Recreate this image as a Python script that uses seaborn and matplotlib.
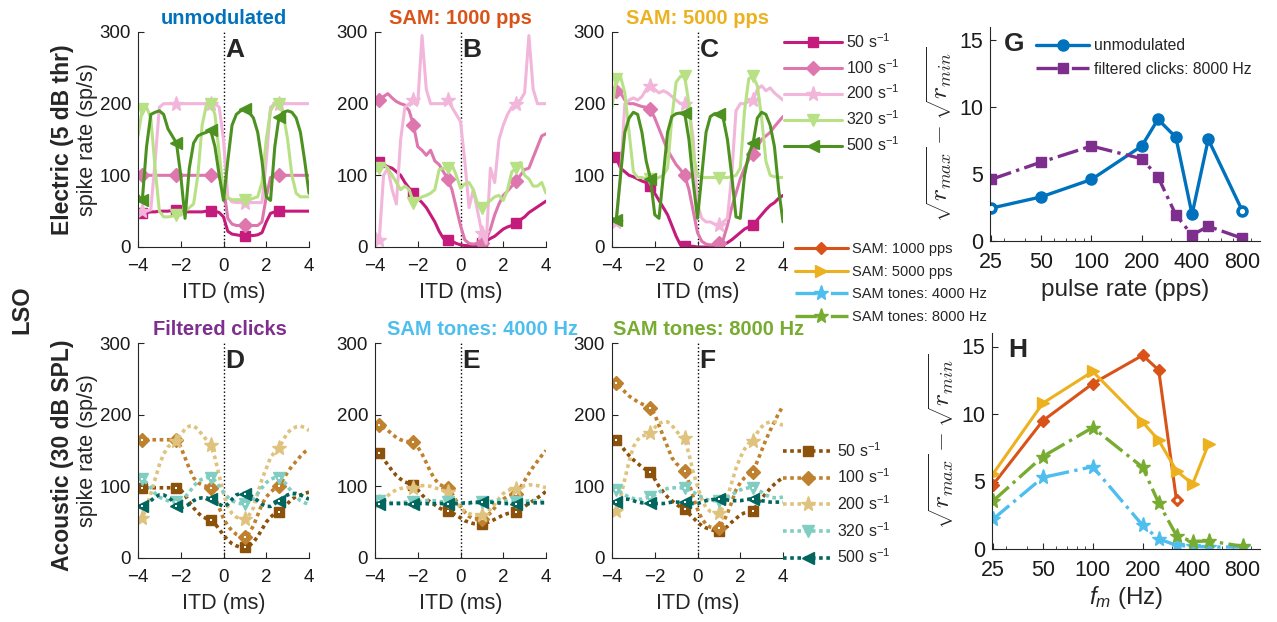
import numpy as np
import matplotlib
matplotlib.use('Agg')
import matplotlib.pyplot as plt
import seaborn as sns
from matplotlib.ticker import FixedLocator, NullFormatter, LogLocator, FixedFormatter

sns.set_style('ticks')
plt.rcParams['font.family'] = ['Liberation Sans', 'DejaVu Sans']
plt.rcParams['mathtext.fontset'] = 'custom'
plt.rcParams['mathtext.rm'] = 'Liberation Sans'
plt.rcParams['mathtext.it'] = 'Liberation Sans:italic'
plt.rcParams['mathtext.bf'] = 'Liberation Sans:bold'

# ---------------- data ----------------
itd = np.linspace(-4, 4, 41)          # ITD sample grid (ms)
marker_idx = [1, 9, 17, 25, 33]        # ITDs -3.8, -2.2, -0.6, 1.0, 2.6

rate_labels = ['50 s$^{-1}$', '100 s$^{-1}$', '200 s$^{-1}$', '320 s$^{-1}$', '500 s$^{-1}$']

# Panel A: electric, unmodulated
A50 = [48,48,48,49,49,50,50,50,51,52, 50,49,49,49,49,49,50,50,50,48,
       42,22,18,17,16,16,16,16,17,20, 35,47,49,50,50,50,50,50,50,50,50]
A100 = [100,100,100,100,100,100,100,100,100,100, 100,100,100,100,100,100,100,100,100,98,
        85,40,32,30,30,30,30,30,30,35, 70,97,100,100,100,100,100,100,100,100,100]
A200 = [50,50,50,52,120,195,200,200,200,200, 200,200,200,200,200,200,200,200,200,195,
        150,70,63,62,62,62,62,62,62,62, 120,195,200,200,200,200,200,200,200,200,200]
A320 = [155,192,195,180,110,50,42,42,43,45, 45,50,55,60,100,170,198,200,185,130,
        75,68,66,66,66,66,66,68,70,90, 150,190,200,200,185,150,100,75,70,70,70]
A500 = [72,65,140,185,188,190,185,165,155,145, 100,40,110,145,155,158,160,163,140,100,
        65,120,170,185,190,193,188,180,160,120, 70,65,140,182,188,190,188,180,160,120,75]

# Panel B: electric, SAM 1000 pps
B50 = [120,118,115,112,110,105,100,90,82,76, 68,62,55,45,35,22,12,10,8,5,
       3,2,2,2,2,5,8,12,15,20, 25,28,30,33,38,42,48,52,56,60,64]
B100 = [205,205,210,214,208,203,200,198,190,170, 140,135,128,135,120,115,105,95,80,55,
        30,10,5,4,5,5,10,25,45,60, 72,78,85,92,100,108,110,125,140,155,158]
B200 = [20,10,100,110,80,60,150,195,200,205, 200,295,220,200,200,200,200,205,195,185,
        175,120,55,80,50,20,5,110,90,150, 170,185,195,200,205,215,295,220,200,200,200]
B320 = [105,110,115,110,100,90,80,85,80,62, 65,70,72,75,80,108,110,110,115,100,
        82,88,90,80,60,55,60,65,70,72, 65,80,105,110,118,100,95,85,85,90,75]

# Panel C: electric, SAM 5000 pps
C50 = [125,125,110,105,100,98,95,92,90,85, 75,65,55,45,30,15,3,2,1,1,
       0,0,0,0,0,1,3,6,10,15, 20,25,28,30,38,45,52,58,62,68,72]
C100 = [215,218,215,205,200,200,198,196,195,192, 180,165,150,135,125,115,108,100,80,50,
        20,8,4,3,3,5,10,30,55,75, 95,110,122,130,140,150,155,160,168,175,182]
C200 = [30,35,100,200,205,208,205,210,220,225, 220,215,218,215,210,205,200,200,195,150,
        60,40,35,35,32,30,35,40,100,190, 200,200,203,205,220,225,218,222,215,210,205]
C320 = [195,235,238,215,160,105,97,97,95,95, 95,97,100,110,180,230,238,238,200,130,
        100,97,97,97,97,96,97,97,98,100, 110,190,235,238,225,180,120,100,98,97,97]
C500 = [40,38,100,160,180,188,185,160,120,95, 45,40,100,160,182,186,187,187,150,90,
        40,100,160,182,186,186,180,150,100,42, 40,100,130,145,180,188,185,170,140,80,35]

# Panel D: acoustic, filtered clicks
D50 = [97,98,98,98,98,98,98,98,98,98, 95,88,78,70,63,58,55,53,48,40,
       32,25,20,17,15,15,17,22,30,40, 50,57,62,64,70,76,82,86,88,90,92]
D100 = [165,165,165,165,165,165,165,165,165,165, 155,140,125,112,105,102,100,98,85,70,
        55,45,38,33,30,30,35,45,60,75, 85,92,97,100,110,120,128,135,142,148,152]
D200 = [55,56,70,90,110,130,145,155,160,163, 172,180,184,184,180,172,165,158,140,115,
        90,72,62,57,55,55,60,70,90,110, 125,140,148,153,165,175,180,183,184,182,178]
D320 = [110,110,105,98,90,85,82,80,78,78, 80,85,92,100,107,110,112,112,108,100,
        92,85,80,77,76,76,78,82,90,98, 105,110,112,112,108,100,92,85,80,77,75]
D500 = [72,72,75,80,85,88,88,85,80,72, 70,72,75,80,83,84,84,82,78,75,
        72,75,82,88,90,90,88,85,80,75, 72,72,76,80,85,88,90,90,88,85,82]

# Panel E: acoustic, SAM tones 4000 Hz
E50 = [145,146,138,130,122,115,110,106,104,102, 95,88,82,78,74,70,67,66,63,60,
       56,52,50,48,48,48,49,51,54,57, 60,62,63,64,68,72,76,80,84,88,93]
E100 = [185,185,182,178,173,168,165,163,162,162, 155,145,133,120,110,103,100,98,90,80,
        72,64,58,55,55,55,58,63,70,77, 82,86,88,90,98,108,118,127,135,143,150]
E200 = [80,78,82,87,92,95,97,98,98,98, 100,101,101,100,98,96,94,92,85,78,
        70,65,62,60,60,60,62,68,75,83, 90,94,96,96,99,101,102,102,101,100,98]
E320 = [80,79,78,78,77,77,77,78,78,78, 78,79,80,80,80,79,78,78,77,77,
        76,76,76,77,77,78,78,79,80,80, 80,79,78,78,78,79,80,80,80,79,78]
E500 = [76,76,76,76,76,76,76,76,75,76, 76,76,76,75,76,76,76,76,76,76,
        76,77,77,78,78,78,78,78,77,77, 76,76,76,76,76,76,76,77,77,77,77]

# Panel F: acoustic, SAM tones 8000 Hz
F50 = [165,164,158,150,143,137,132,127,123,120, 110,100,92,85,80,75,71,68,62,56,
       50,45,42,40,38,38,40,44,50,55, 60,63,65,66,75,83,90,97,103,108,112]
F100 = [245,244,238,232,226,222,218,215,212,210, 200,185,170,155,140,132,127,122,105,85,
        68,55,47,43,42,42,50,62,78,95, 105,112,117,120,135,150,165,178,190,202,212]
F200 = [60,65,85,110,135,155,165,170,172,175, 182,188,190,190,185,178,170,167,145,120,
        100,82,70,65,63,63,70,85,105,125, 140,152,160,163,175,183,188,190,190,188,185]
F320 = [95,95,92,88,85,83,82,82,84,85, 88,92,95,97,98,98,98,97,95,92,
        88,85,82,80,80,80,82,85,88,92, 95,97,98,98,95,92,88,85,84,84,85]
F500 = [78,78,80,82,82,80,78,77,77,77, 76,76,76,77,78,78,78,78,77,76,
        76,78,80,81,82,82,82,81,80,80, 80,81,82,83,82,80,79,78,78,78,78]

# Panel G: modulation depth vs pulse rate
G_rates = [25, 50, 100, 200, 250, 320, 400, 500, 800]
G_unmod = [2.45, 3.3, 4.6, 7.1, 9.1, 7.75, 2.0, 7.6, 2.25]
G_unmod_open = [True, False, False, False, False, False, False, False, True]
G_clicks = [4.6, 5.9, 7.1, 6.15, 4.8, 1.95, 0.45, 1.1, 0.2]

# Panel H: modulation depth vs modulation frequency
H_rates_1000 = [25, 50, 100, 200, 250, 320]
H_sam1000 = [4.75, 9.5, 12.25, 14.35, 13.25, 3.6]
H_sam1000_open = [False, False, False, False, False, True]
H_rates_5000 = [25, 50, 100, 200, 250, 320, 400, 500]
H_sam5000 = [5.55, 10.8, 13.15, 9.4, 8.05, 5.8, 4.8, 7.8]
H_rates_tones = [25, 50, 100, 200, 250, 320, 400, 500, 800]
H_tone4000 = [2.2, 5.3, 6.1, 1.75, 0.75, 0.27, 0.2, 0.15, 0.15]
H_tone8000 = [3.55, 6.85, 9.0, 6.05, 3.4, 1.0, 0.55, 0.6, 0.2]

# ---------------- styling ----------------
el_colors = ['#c51b7d', '#de77ae', '#f1b6da', '#b8e186', '#4d9221']
ac_colors = ['#8c510a', '#bf812d', '#dfc27d', '#80cdc1', '#01665e']
markers = ['s', 'D', '*', 'v', '<']
msizes = [7, 7, 11, 8, 8]
c_unmod = '#0072BD'; c_1000 = '#D95319'; c_5000 = '#EDB120'
c_clicks = '#7E2F8E'; c_4000 = '#4DBEEE'; c_8000 = '#77AC30'
axcol = '#262626'

W, H = 1277, 622
fig = plt.figure(figsize=(W / 100, H / 100), dpi=100)


def axbox(l, t, r, b):
    return fig.add_axes([l / W, 1 - b / H, (r - l) / W, (b - t) / H])


axA = axbox(138, 32, 309, 247)
axB = axbox(375, 32, 546, 247)
axC = axbox(612, 32, 783, 247)
axD = axbox(138, 343, 309, 558)
axE = axbox(375, 343, 546, 558)
axF = axbox(612, 343, 783, 558)
axG = axbox(990, 27, 1260, 241)
axH = axbox(992, 333, 1260, 549)


def style_ax(ax, size=13.5):
    sns.despine(ax=ax)
    for s in ['left', 'bottom']:
        ax.spines[s].set_color(axcol)
        ax.spines[s].set_linewidth(0.8)
    ax.tick_params(direction='in', length=4, width=0.8, colors=axcol,
                   labelsize=size, labelcolor='#1a1a1a', pad=5)
    ax.tick_params(axis='x', pad=8)


def draw_itd(ax, series, colors, ls, lw, hollow):
    for y, c, m, ms, lab in zip(series, colors, markers, msizes, rate_labels):
        sns.lineplot(x=itd, y=y, ax=ax, color=c, marker=m, markevery=marker_idx,
                     ms=ms, mec=c, mfc=c, mew=1, lw=lw, ls=ls, label=lab,
                     legend=False, solid_joinstyle='round', dash_capstyle='butt')
        if hollow and m != '*':
            # small white centre dot inside the acoustic markers
            sns.lineplot(x=itd, y=y, ax=ax, color='white', marker='s', markevery=marker_idx,
                         ms=1.8, mec='white', mfc='white', mew=0, lw=0, ls='',
                         legend=False)


dotted = (0, (1.0, 1.0))
panels = [
    (axA, [A50, A100, A200, A320, A500], el_colors, '-', 2.2, 'unmodulated', c_unmod, 'A', 0.5, False),
    (axB, [B50, B100, B200, B320], el_colors, '-', 2.2, 'SAM: 1000 pps', c_1000, 'B', 0.5, False),
    (axC, [C50, C100, C200, C320, C500], el_colors, '-', 2.2, 'SAM: 5000 pps', c_5000, 'C', 0.5, False),
    (axD, [D50, D100, D200, D320, D500], ac_colors, dotted, 2.6, 'Filtered clicks', c_clicks, 'D', 0.48, True),
    (axE, [E50, E100, E200, E320, E500], ac_colors, dotted, 2.6, 'SAM tones: 4000 Hz', c_4000, 'E', 0.63, True),
    (axF, [F50, F100, F200, F320, F500], ac_colors, dotted, 2.6, 'SAM tones: 8000 Hz', c_8000, 'F', 0.565, True),
]
for ax, series, cols, ls, lw, title, tcol, letter, tx, hollow in panels:
    draw_itd(ax, series, cols, ls, lw, hollow)
    ax.axvline(0, color='k', ls=':', lw=1.0, zorder=0.5)
    ax.set_xlim(-4, 4)
    ax.set_ylim(0, 300)
    ax.set_xticks([-4, -2, 0, 2, 4])
    ax.set_yticks([0, 100, 200, 300])
    ax.set_xlabel('ITD (ms)', fontsize=15.5, labelpad=5)
    ax.set_ylabel('')
    ax.set_title(title, color=tcol, fontsize=14.5, fontweight='bold', x=tx, pad=6)
    ax.text(0.1, 292, letter, fontsize=19, fontweight='bold', va='top', ha='left')
    style_ax(ax)

axA.set_ylabel('spike rate (sp/s)', fontsize=15.5, labelpad=1)
axD.set_ylabel('spike rate (sp/s)', fontsize=15.5, labelpad=1)

fig.text(63 / W, 1 - 140 / H, 'Electric (5 dB thr)', rotation=90, fontsize=16.5,
         fontweight='bold', ha='center', va='center')
fig.text(63 / W, 1 - 455 / H, 'Acoustic (30 dB SPL)', rotation=90, fontsize=16.5,
         fontweight='bold', ha='center', va='center')
fig.text(22 / W, 1 - 310 / H, 'LSO', rotation=90, fontsize=17,
         fontweight='bold', ha='center', va='center')

# legends for ITD panels (labelled lines only)
hA, lA = axA.get_legend_handles_labels()
fig.legend(hA, lA, loc='upper left', bbox_to_anchor=(784 / W, 1 - 32 / H), frameon=False,
           fontsize=11.5, handlelength=3.6, handletextpad=0.3, labelspacing=0.45,
           borderaxespad=0, borderpad=0)
hF, lF = axF.get_legend_handles_labels()
fig.legend(hF, lF, loc='upper left', bbox_to_anchor=(783 / W, 1 - 441 / H), frameon=False,
           fontsize=11.5, handlelength=3.1, handletextpad=0.3, labelspacing=0.5,
           borderaxespad=0, borderpad=0)

# ---------------- panel G ----------------
sns.lineplot(x=G_rates, y=G_unmod, ax=axG, color=c_unmod, marker='o', ms=8, mec=c_unmod,
             mfc=c_unmod, mew=1, lw=2.4, label='unmodulated', legend=False)
sns.lineplot(x=G_rates, y=G_clicks, ax=axG, color=c_clicks, marker='s', ms=6.5, mec=c_clicks,
             mfc=c_clicks, mew=1, lw=2.4, ls='-.', label='filtered clicks: 8000 Hz', legend=False)
open_x = [r for r, o in zip(G_rates, G_unmod_open) if o]
open_y = [v for v, o in zip(G_unmod, G_unmod_open) if o]
sns.scatterplot(x=open_x, y=open_y, ax=axG, color='white', s=14, linewidth=0, zorder=5, legend=False)

# ---------------- panel H ----------------
sns.lineplot(x=H_rates_1000, y=H_sam1000, ax=axH, color=c_1000, marker='D', ms=6.5, mec=c_1000,
             mfc=c_1000, mew=1, lw=2.2, label='SAM: 1000 pps', legend=False)
sns.lineplot(x=H_rates_5000, y=H_sam5000, ax=axH, color=c_5000, marker='>', ms=9, mec=c_5000,
             mfc=c_5000, mew=1, lw=2.2, label='SAM: 5000 pps', legend=False)
sns.lineplot(x=H_rates_tones, y=H_tone4000, ax=axH, color=c_4000, marker='*', ms=11, mec=c_4000,
             mfc=c_4000, mew=1, lw=2.4, ls='-.', label='SAM tones: 4000 Hz', legend=False)
sns.lineplot(x=H_rates_tones, y=H_tone8000, ax=axH, color=c_8000, marker='*', ms=11, mec=c_8000,
             mfc=c_8000, mew=1, lw=2.4, ls='-.', label='SAM tones: 8000 Hz', legend=False)
open_x = [r for r, o in zip(H_rates_1000, H_sam1000_open) if o]
open_y = [v for v, o in zip(H_sam1000, H_sam1000_open) if o]
sns.scatterplot(x=open_x, y=open_y, ax=axH, color='white', s=8, linewidth=0, zorder=5, legend=False)

ylab = r'$\sqrt{r_{max}} - \sqrt{r_{min}}$'
for ax in (axG, axH):
    ax.set_xscale('log')
    ax.set_xlim(24.7, 1020)
    ax.set_ylim(0, 16)
    ax.xaxis.set_major_locator(FixedLocator([25, 50, 100, 200, 400, 800]))
    ax.xaxis.set_major_formatter(FixedFormatter(['25', '50', '100', '200', '400', '800']))
    ax.xaxis.set_minor_locator(LogLocator(base=10, subs=np.arange(2, 10)))
    ax.xaxis.set_minor_formatter(NullFormatter())
    ax.set_yticks([0, 5, 10, 15])
    style_ax(ax, size=15.5)
    ax.tick_params(which='minor', direction='in', length=2.5, width=0.6, colors=axcol)
    ax.set_ylabel(ylab, fontsize=18.5, math_fontfamily='cm', labelpad=3)

axG.set_xlabel('pulse rate (pps)', fontsize=17.5, labelpad=4)
axH.set_xlabel('$f_m$ (Hz)', fontsize=17.5, labelpad=2)
axG.text(30, 15.6, 'G', fontsize=19, fontweight='bold', va='top', ha='left')
axH.text(31, 15.6, 'H', fontsize=19, fontweight='bold', va='top', ha='left')

hG, lG = axG.get_legend_handles_labels()
axG.legend(hG, lG, loc='upper left', bbox_to_anchor=(1036 / W, 1 - 38 / H),
           bbox_transform=fig.transFigure, frameon=False, fontsize=11.3, handlelength=3.4,
           handletextpad=0.3, labelspacing=0.55, borderaxespad=0, borderpad=0)
hH, lH = axH.get_legend_handles_labels()
fig.legend(hH, lH, loc='upper left', bbox_to_anchor=(795 / W, 1 - 242 / H), frameon=False,
           fontsize=10.5, handlelength=3.6, handletextpad=0.3, labelspacing=0.6,
           borderaxespad=0, borderpad=0)

fig.savefig('out.png', dpi=100, facecolor='white')
